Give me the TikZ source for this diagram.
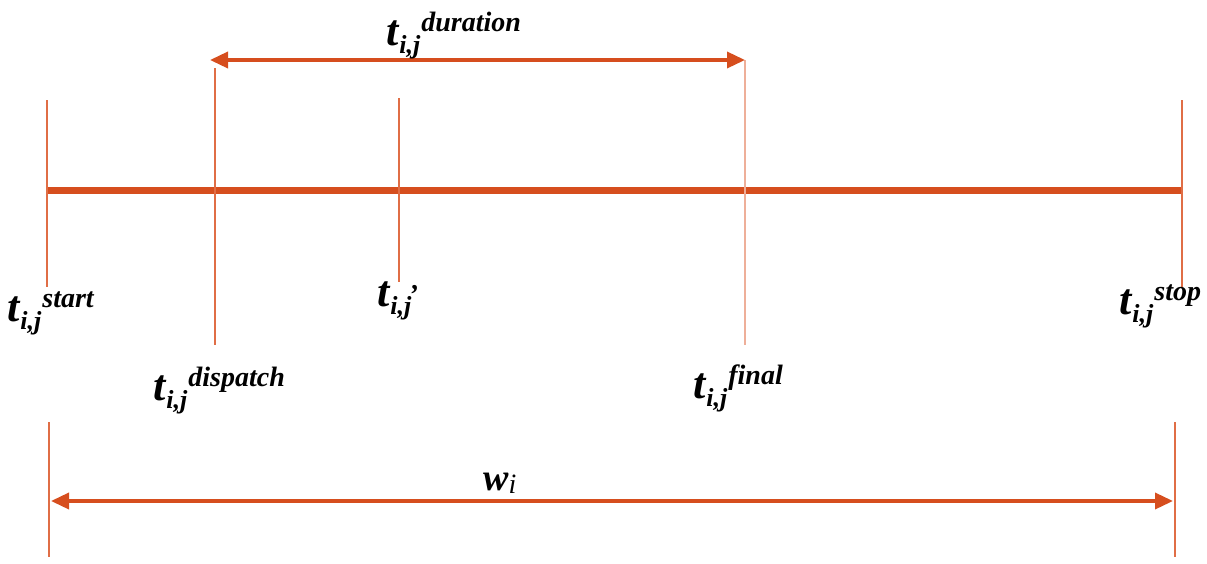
\documentclass[tikz,border=0pt]{standalone}
\usepackage{fontspec}
\setmainfont{Liberation Serif}
\usetikzlibrary{arrows.meta}
\definecolor{lineor}{RGB}{214,78,30}
\definecolor{thinor}{RGB}{224,110,70}
\newcommand{\tlab}[1]{{\fontsize{44}{44}\selectfont\bfseries\itshape t}\kern1pt\raisebox{-8pt}{\fontsize{26}{26}\selectfont\bfseries\itshape i,j}\kern1pt\raisebox{14pt}{\fontsize{28}{28}\selectfont\bfseries\itshape #1}}
\begin{document}
\begin{tikzpicture}[x=1pt,y=-1pt,
  mainline/.style={draw=lineor,line width=7pt},
  tick/.style={draw=thinor,line width=2pt},
  faint/.style={draw=thinor!55,line width=2pt},
  span/.style={draw=lineor,line width=3.5pt,{Triangle[length=18pt,width=16pt]}-{Triangle[length=18pt,width=16pt]}},
  lab/.style={anchor=base west,inner sep=0pt,text=black}]
\useasboundingbox (0,0) rectangle (1207,563);
% coordinates
\coordinate (m0) at (47,190);
\coordinate (m1) at (1182,190);
\coordinate (a0) at (47,100);   \coordinate (a1) at (47,287);
\coordinate (b0) at (215,68);   \coordinate (b1) at (215,345);
\coordinate (c0) at (399,98);   \coordinate (c1) at (399,282);
\coordinate (d0) at (745,60);   \coordinate (d1) at (745,345);
\coordinate (e0) at (1182,100); \coordinate (e1) at (1182,287);
\coordinate (f0) at (49,422);   \coordinate (f1) at (49,557);
\coordinate (g0) at (1175,422); \coordinate (g1) at (1175,557);
\coordinate (u0) at (210,60);   \coordinate (u1) at (745,60);
\coordinate (w0) at (51,501);   \coordinate (w1) at (1173,501);
% lines
\draw[mainline] (m0) -- (m1);
\draw[tick] (a0) -- (a1);
\draw[tick] (b0) -- (b1);
\draw[tick] (c0) -- (c1);
\draw[faint] (d0) -- (d1);
\draw[tick] (e0) -- (e1);
\draw[tick] (f0) -- (f1);
\draw[tick] (g0) -- (g1);
\draw[span] (u0) -- (u1);
\draw[span] (w0) -- (w1);
% labels
\node[lab] (lstart) at (7,321) {\tlab{start}};
\node[lab] (lprime) at (377,306) {\tlab{\raisebox{3pt}{,}}};
\node[lab] (ldisp) at (153,400) {\tlab{dispatch}};
\node[lab] (lfinal) at (693,398) {\tlab{final}};
\node[lab] (lstop) at (1119,314) {\tlab{stop}};
\node[lab] (ldur) at (386,45) {\tlab{duration}};
\node[lab] (lw) at (483,490) {{\fontsize{38}{38}\selectfont\bfseries\itshape w}\raisebox{-3pt}{\fontsize{28}{28}\selectfont\itshape i}};
\end{tikzpicture}
\end{document}
